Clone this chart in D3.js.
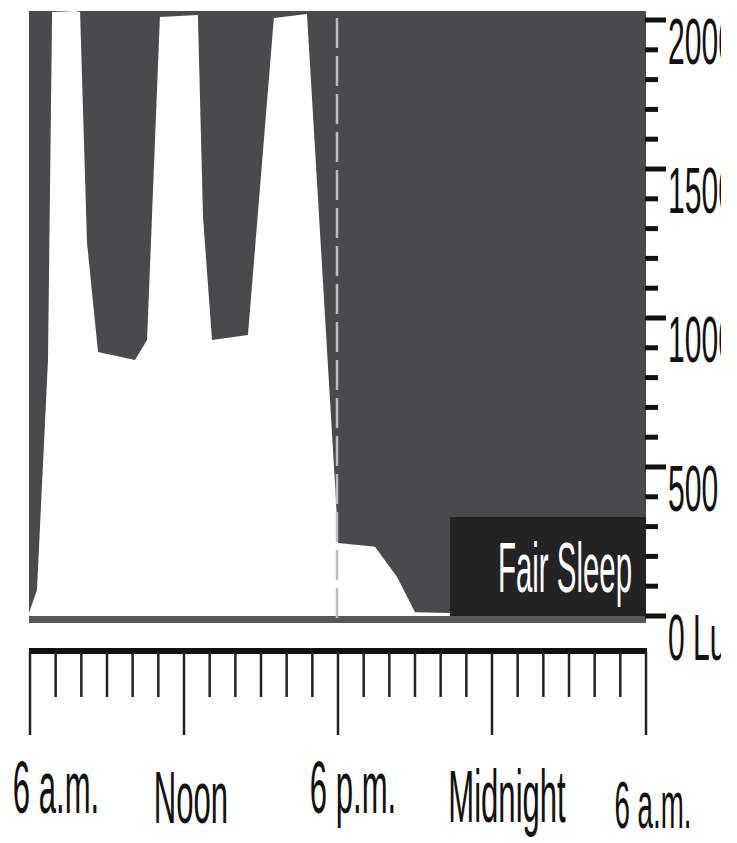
<!DOCTYPE html>
<html>
<head>
<meta charset="utf-8">
<script src="https://cdn.jsdelivr.net/npm/d3@7"></script>
<style>
  html, body { margin: 0; padding: 0; background: #fff; overflow: hidden; }
  svg { display: block; }
  text { font-family: "Liberation Sans", Arial, "Helvetica", sans-serif; }
</style>
</head>
<body>
<svg id="chart" width="737" height="843"></svg>
<script>
// ---- data ----
// hours after 6 a.m.
const hours = [0, 0.31, 0.74, 0.9, 1.79, 1.99, 2.26, 2.69, 4.13, 4.6, 5.1, 6.58, 6.78, 7.13, 8.53, 9.54, 10.83, 11.96, 12.04, 13.48, 14.34, 15.04, 16.4, 24];
const lux   = [10, 87, 859, 2027, 2030, 2027, 1252, 886, 859, 926, 2010, 2017, 1339, 926, 943, 2007, 2020, 389, 245, 232, 131, 13, 10, 5];
const xTickHours = d3.range(0, 25, 1);
const xLabelHours = [0, 6, 12, 18, 24];
const xLabels = ["6 a.m.", "Noon", "6 p.m.", "Midnight", "6 a.m."];
const yTickValues = d3.range(0, 2001, 100);
const yLabelValues = [0, 500, 1000, 1500, 2000];
const yLabels = ["0 Lux", "500", "1000", "1500", "2000"];
const boxLabel = "Fair Sleep";
const boxStartHour = 16.4;
const bedtimeHour = 12;

// ---- layout ----
const svg = d3.select("#chart");
const plot = { left: 29, right: 646, top: 11, bottom: 623 };
const x = d3.scaleLinear().domain([0, 24]).range([29, 645]);
const y = d3.scaleLinear().domain([0, 2000]).range([616, 20]);
const data = hours.map((h, i) => ({ h, v: lux[i] }));

const defs = svg.append("defs");
defs.append("clipPath").attr("id", "plotclip")
  .append("rect")
  .attr("x", plot.left).attr("y", plot.top)
  .attr("width", plot.right - plot.left).attr("height", y(0) - plot.top);
// the source figure is cropped just right of the axis labels
defs.append("clipPath").attr("id", "figclip")
  .append("rect")
  .attr("x", 0).attr("y", 0).attr("width", 721).attr("height", 843);

const fig = svg.append("g").attr("clip-path", "url(#figclip)");

// background
fig.append("rect")
  .attr("x", plot.left).attr("y", plot.top)
  .attr("width", plot.right - plot.left).attr("height", plot.bottom - plot.top)
  .attr("fill", "#4a4a4c");

// bottom band
fig.append("rect")
  .attr("x", plot.left).attr("y", y(0))
  .attr("width", plot.right - plot.left).attr("height", plot.bottom - y(0))
  .attr("fill", "#575757");

// light area
const area = d3.area().x(d => x(d.h)).y0(y(0)).y1(d => y(d.v)).curve(d3.curveLinear);
fig.append("path")
  .datum(data)
  .attr("clip-path", "url(#plotclip)")
  .attr("d", area)
  .attr("fill", "#ffffff");

// dashed 6 p.m. line
fig.append("line")
  .attr("x1", x(bedtimeHour)).attr("x2", x(bedtimeHour))
  .attr("y1", 18).attr("y2", plot.bottom)
  .attr("stroke", "#bdbdbd").attr("stroke-width", 2.5)
  .attr("stroke-dasharray", "30 8");

// label box
fig.append("rect")
  .attr("x", x(boxStartHour)).attr("y", 517)
  .attr("width", plot.right - x(boxStartHour)).attr("height", y(0) - 517)
  .attr("fill", "#232323");
fig.append("g")
  .attr("transform", `translate(632,592) scale(0.42,1)`)
  .append("text")
  .attr("text-anchor", "end")
  .attr("font-size", 70)
  .attr("fill", "#ffffff")
  .text(boxLabel);

// y axis ticks (right)
const yAx = fig.append("g");
yAx.selectAll("line").data(yTickValues).join("line")
  .attr("x1", plot.right - 1)
  .attr("x2", d => yLabelValues.includes(d) ? 666 : 658)
  .attr("y1", d => y(d)).attr("y2", d => y(d))
  .attr("stroke", "#111").attr("stroke-width", 5);
yAx.selectAll("g.lab").data(yLabelValues).join("g")
  .attr("class", "lab")
  .attr("transform", d => `translate(668,${y(d) + 44}) scale(0.47,1)`)
  .append("text")
  .attr("font-size", 64)
  .attr("fill", "#111")
  .text((d, i) => yLabels[i]);

// x axis
const xAx = fig.append("g");
xAx.append("line")
  .attr("x1", plot.left).attr("x2", 647)
  .attr("y1", 651).attr("y2", 651)
  .attr("stroke", "#111").attr("stroke-width", 6);
xAx.selectAll("line.tk").data(xTickHours).join("line")
  .attr("class", "tk")
  .attr("x1", d => x(d) + 1).attr("x2", d => x(d) + 1)
  .attr("y1", 651)
  .attr("y2", d => xLabelHours.includes(d) ? 735 : 697)
  .attr("stroke", "#222").attr("stroke-width", 2.5);

const labelLayout = [
  { dx: 27, base: 813, size: 74 },
  { dx: 8,  base: 823, size: 74 },
  { dx: 16, base: 813, size: 74 },
  { dx: 16, base: 822, size: 74 },
  { dx: 8,  base: 828, size: 66 }
];
xAx.selectAll("g.xl").data(xLabelHours).join("g")
  .attr("class", "xl")
  .attr("transform", (d, i) => `translate(${x(d) + labelLayout[i].dx},${labelLayout[i].base}) scale(0.42,1)`)
  .append("text")
  .attr("text-anchor", "middle")
  .attr("font-size", (d, i) => labelLayout[i].size)
  .attr("fill", "#111")
  .text((d, i) => xLabels[i]);
</script>
</body>
</html>
